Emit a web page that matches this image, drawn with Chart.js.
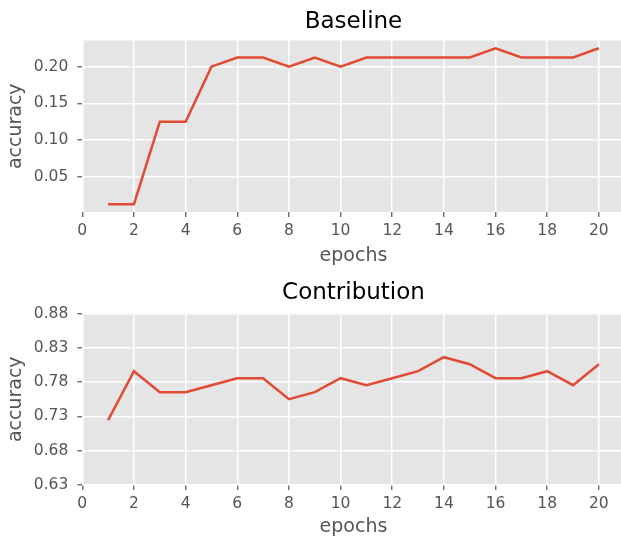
<!DOCTYPE html>
<html>
<head>
<meta charset="utf-8">
<script src="https://cdn.jsdelivr.net/npm/chart.js@4"></script>
<style>
  html, body { margin: 0; padding: 0; background: #fff; }
  #wrap { position: relative; width: 621px; height: 538px; overflow: hidden; }
  .box { position: absolute; left: 0; }
</style>
</head>
<body>
<div id="wrap">
  <div class="box" style="top:0"><canvas id="baseline" width="630" height="272"></canvas></div>
  <div class="box" style="top:272px"><canvas id="contribution" width="630" height="268"></canvas></div>
</div>
<script>
const epochs = [1, 2, 3, 4, 5, 6, 7, 8, 9, 10, 11, 12, 13, 14, 15, 16, 17, 18, 19, 20];

const baselineAcc = [0.0125, 0.0125, 0.125, 0.125, 0.2, 0.2125, 0.2125, 0.2, 0.2125, 0.2,
                     0.2125, 0.2125, 0.2125, 0.2125, 0.2125, 0.225, 0.2125, 0.2125, 0.2125, 0.225];

const contributionAcc = [0.7245, 0.7959, 0.7653, 0.7653, 0.7755, 0.7857, 0.7857, 0.7551, 0.7653, 0.7857,
                         0.7755, 0.7857, 0.7959, 0.8163, 0.8061, 0.7857, 0.7857, 0.7959, 0.7755, 0.8061];

const xTicks = [0, 2, 4, 6, 8, 10, 12, 14, 16, 18, 20];
const baselineTicks = [0.05, 0.10, 0.15, 0.20];
const contributionTicks = [0.63, 0.68, 0.73, 0.78, 0.83, 0.88];

const FONT = "'DejaVu Sans', sans-serif";
const GREY = '#555555';

// grey panel behind the plot, like the ggplot style
const plotBg = {
  id: 'plotBg',
  beforeDraw(chart) {
    const { ctx, chartArea: a } = chart;
    ctx.save();
    ctx.fillStyle = '#E5E5E5';
    ctx.fillRect(a.left, a.top, a.right - a.left, a.bottom - a.top);
    ctx.restore();
  }
};

function setTicks(list) {
  return scale => { scale.ticks = list.map(v => ({ value: v })); };
}

function makeChart(id, title, values, yTicks, yMin, yMax, geo) {
  const points = epochs.map((e, i) => ({ x: e, y: values[i] }));
  return new Chart(document.getElementById(id), {
    type: 'line',
    data: {
      datasets: [{
        data: points,
        borderColor: '#E24A33',
        borderWidth: 2.5,
        pointRadius: 0,
        tension: 0,
        fill: false
      }]
    },
    options: {
      responsive: false,
      devicePixelRatio: 1,
      animation: false,
      layout: { padding: { left: 0, right: 5.3, top: 0, bottom: 0 } },
      plugins: {
        legend: { display: false },
        tooltip: { enabled: false },
        title: {
          display: true,
          text: title,
          color: '#000',
          fullSize: false,
          font: { family: FONT, size: 23, weight: 'normal' },
          padding: { top: geo.titleTop, bottom: geo.titleBottom }
        }
      },
      scales: {
        x: {
          type: 'linear',
          min: 0,
          max: 21,
          afterBuildTicks: setTicks(xTicks),
          afterFit: s => { s.height = geo.xHeight; },
          border: { display: false },
          grid: { color: '#fff', lineWidth: 1.5, tickColor: GREY, tickLength: 5, tickWidth: 1.2 },
          ticks: { color: GREY, padding: 5, maxRotation: 0, font: { family: FONT, size: 15.5 },
                   callback: v => String(v) },
          title: { display: true, text: 'epochs', color: GREY,
                   font: { family: FONT, size: 19 }, padding: { top: 0, bottom: geo.xTitleBottom } }
        },
        y: {
          min: yMin,
          max: yMax,
          afterBuildTicks: setTicks(yTicks),
          afterFit: s => { s.width = 82.3; },
          border: { display: false },
          grid: { color: '#fff', lineWidth: 1.5, tickColor: GREY, tickLength: 5, tickWidth: 1.2 },
          ticks: { color: GREY, padding: 9, font: { family: FONT, size: 15.5 },
                   callback: v => v.toFixed(2) },
          title: { display: true, text: 'accuracy', color: GREY,
                   font: { family: FONT, size: 19 }, padding: { top: 4.9, bottom: 0 } }
        }
      }
    },
    plugins: [plotBg]
  });
}

// matplotlib-like 5% margin around the baseline data
const bMin = Math.min(...baselineAcc), bMax = Math.max(...baselineAcc);
const bPad = (bMax - bMin) * 0.05;

makeChart('baseline', 'Baseline', baselineAcc, baselineTicks, bMin - bPad, bMax + bPad,
  { titleTop: 8.2, titleBottom: 4.7, xHeight: 60, xTitleBottom: 4.6 });

makeChart('contribution', 'Contribution', contributionAcc, contributionTicks,
  contributionTicks[0], contributionTicks[contributionTicks.length - 1],
  { titleTop: 7, titleBottom: 6.9, xHeight: 55, xTitleBottom: 1.6 });
</script>
</body>
</html>
